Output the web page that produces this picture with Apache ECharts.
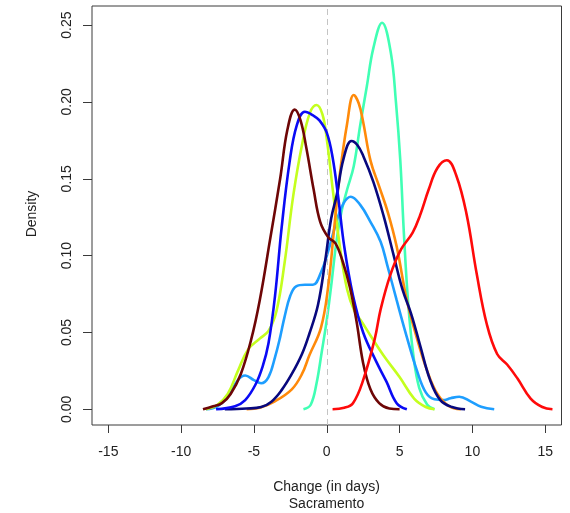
<!DOCTYPE html>
<html>
<head>
<meta charset="utf-8">
<script src="https://cdn.jsdelivr.net/npm/echarts@6/dist/echarts.min.js"></script>
<style>
  html, body { margin: 0; padding: 0; background: #fff; }
  #chart { width: 570px; height: 513px; }
</style>
</head>
<body>
<div id="chart"></div>
<script>
// Kernel density estimates of the change in days, Sacramento.
// Each curve is a list of [change, density] pairs.
const maroonCurve = [
  [-8.5, 0], [-7.8, 0.002], [-7.2, 0.004], [-6.6, 0.010], [-5.9, 0.023], [-5.2, 0.045],
  [-4.6, 0.071], [-3.9, 0.110], [-3.2, 0.150], [-2.7, 0.182], [-2.2, 0.195], [-1.8, 0.188],
  [-1.4, 0.170], [-0.9, 0.143], [-0.45, 0.122], [0.1, 0.112], [0.6, 0.108], [1.1, 0.096],
  [1.6, 0.079], [2.05, 0.057], [2.5, 0.030], [3.0, 0.013], [3.6, 0.004], [4.3, 0.0005], [5.0, 0]
];
const blueCurve = [
  [-7.6, 0], [-6.3, 0.002], [-5.6, 0.006], [-4.9, 0.016], [-4.4, 0.028], [-4.0, 0.043],
  [-3.55, 0.074], [-3.1, 0.118], [-2.55, 0.161], [-2.05, 0.185], [-1.5, 0.1936], [-0.9, 0.191],
  [-0.5, 0.188], [0.0, 0.180], [0.4, 0.164], [0.8, 0.137], [1.2, 0.106], [1.8, 0.074],
  [2.5, 0.050], [3.4, 0.031], [4.1, 0.018], [4.8, 0.004], [5.5, 0]
];
const greenYellowCurve = [
  [-8.3, 0], [-7.5, 0.003], [-6.8, 0.010], [-6.1, 0.025], [-5.4, 0.039], [-4.6, 0.046],
  [-4.0, 0.051], [-3.45, 0.064], [-2.9, 0.095], [-2.3, 0.139], [-1.7, 0.172], [-1.15, 0.193],
  [-0.7, 0.198], [-0.3, 0.192], [0.0, 0.176], [0.45, 0.140], [0.9, 0.106], [1.4, 0.078],
  [1.9, 0.064], [2.4, 0.057], [3.0, 0.048], [3.9, 0.035], [5.0, 0.021], [6.0, 0.007],
  [6.8, 0.0015], [7.4, 0]
];
const navyCurve = [
  [-7.0, 0], [-5.5, 0.0005], [-4.5, 0.0015], [-3.8, 0.005], [-3.1, 0.0125], [-2.4, 0.023],
  [-1.7, 0.036], [-1.2, 0.049], [-0.6, 0.068], [-0.1, 0.097], [0.3, 0.124], [0.7, 0.140],
  [1.15, 0.163], [1.7, 0.1746], [2.1, 0.172], [2.5, 0.165], [3.2, 0.148], [3.9, 0.126],
  [4.6, 0.100], [5.2, 0.078], [5.8, 0.062], [6.4, 0.042], [7.1, 0.019], [7.8, 0.006],
  [8.6, 0.0015], [9.5, 0]
];
const orangeCurve = [
  [-5.5, 0], [-4.6, 0.001], [-3.6, 0.005], [-2.4, 0.013], [-1.7, 0.023], [-1.2, 0.035],
  [-0.4, 0.053], [0.1, 0.080], [0.5, 0.117], [0.9, 0.153], [1.4, 0.186], [1.85, 0.2045],
  [2.2, 0.199], [2.5, 0.187], [3.0, 0.162], [3.6, 0.145], [4.2, 0.128], [4.8, 0.106],
  [5.5, 0.071], [6.2, 0.046], [6.9, 0.025], [7.6, 0.010], [8.4, 0.002], [9.2, 0]
];
const skyBlueCurve = [
  [-8.3, 0], [-7.5, 0.002], [-6.8, 0.008], [-6.1, 0.019], [-5.6, 0.022], [-5.0, 0.019],
  [-4.5, 0.017], [-4.0, 0.021], [-3.55, 0.034], [-3.2, 0.047], [-2.9, 0.060], [-2.5, 0.074],
  [-2.1, 0.080], [-1.5, 0.081], [-0.95, 0.081], [-0.4, 0.089], [0.1, 0.103], [0.7, 0.123],
  [1.15, 0.134], [1.65, 0.1383], [2.3, 0.133], [3.0, 0.122], [3.7, 0.109], [4.15, 0.094],
  [4.8, 0.071], [5.5, 0.047], [6.2, 0.025], [6.8, 0.011], [7.4, 0.0065], [8.0, 0.006],
  [8.5, 0.0072], [9.1, 0.0082], [9.9, 0.005], [10.6, 0.0017], [11.5, 0]
];
const aquaCurve = [
  [-1.6, 0], [-1.1, 0.003], [-0.7, 0.017], [-0.35, 0.037], [0.0, 0.058], [0.3, 0.080],
  [0.65, 0.108], [1.0, 0.128], [1.4, 0.143], [1.85, 0.158], [2.3, 0.185], [2.75, 0.210],
  [3.2, 0.235], [3.8, 0.2515], [4.4, 0.232], [4.75, 0.200], [5.05, 0.162], [5.3, 0.114],
  [5.6, 0.068], [5.95, 0.035], [6.35, 0.014], [6.9, 0.003], [7.4, 0]
];
const redCurve = [
  [0.4, 0], [1.2, 0.001], [1.8, 0.004], [2.5, 0.019], [3.3, 0.046], [3.7, 0.065],
  [4.35, 0.087], [5.1, 0.104], [5.9, 0.115], [6.4, 0.126], [7.0, 0.143], [7.6, 0.157],
  [8.25, 0.162], [8.9, 0.152], [9.6, 0.127], [10.3, 0.088], [11.0, 0.055], [11.7, 0.036],
  [12.4, 0.029], [13.1, 0.020], [14.0, 0.007], [14.8, 0.0015], [15.5, 0]
];

// Tick positions on both axes
const xTicks = [-15, -10, -5, 0, 5, 10, 15];
const yTicks = [0, 0.05, 0.10, 0.15, 0.20, 0.25];
const yTickLabels = ['0.00', '0.05', '0.10', '0.15', '0.20', '0.25'];

const curves = [
  { data: aquaCurve, color: '#40FFB4' },
  { data: skyBlueCurve, color: '#1E9EFF' },
  { data: greenYellowCurve, color: '#C4FF1E' },
  { data: orangeCurve, color: '#FF8A0A' },
  { data: navyCurve, color: '#08087E' },
  { data: blueCurve, color: '#0A0AF5' },
  { data: maroonCurve, color: '#6E0606' },
  { data: redCurve, color: '#FF0A0A' }
];

const font = '"Liberation Sans", Arial, sans-serif';
const chart = echarts.init(document.getElementById('chart'), null, { renderer: 'canvas' });

const series = curves.map((c, i) => ({
  type: 'line',
  data: c.data,
  showSymbol: false,
  smooth: 0.4,
  silent: true,
  z: 3 + i,
  lineStyle: { color: c.color, width: 2.6 },
  animation: false
}));

// Vertical dashed reference line at zero change
series.push({
  type: 'line',
  data: [],
  silent: true,
  z: 2,
  markLine: {
    silent: true,
    symbol: ['none', 'none'],
    label: { show: false },
    lineStyle: { color: '#c4c4c4', type: [6, 4], width: 1 },
    data: [{ xAxis: 0 }],
    animation: false
  }
});

chart.setOption({
  animation: false,
  backgroundColor: '#ffffff',
  grid: {
    left: 92, right: 8.5, top: 6, bottom: 88,
    show: true, borderColor: '#3a3a3a', borderWidth: 1, backgroundColor: 'transparent'
  },
  xAxis: {
    type: 'value',
    min: -16.12, max: 16.12,
    axisLine: { show: false, onZero: false },
    splitLine: { show: false },
    axisTick: {
      show: true, inside: false, length: 8, customValues: xTicks,
      lineStyle: { color: '#3a3a3a', width: 1 }
    },
    axisLabel: {
      show: true, customValues: xTicks, margin: 20,
      fontFamily: font, fontSize: 14, color: '#222'
    }
  },
  yAxis: {
    type: 'value',
    min: -0.0102, max: 0.2624,
    axisLine: { show: false, onZero: false },
    splitLine: { show: false },
    axisTick: {
      show: true, inside: false, length: 9, customValues: yTicks,
      lineStyle: { color: '#3a3a3a', width: 1 }
    },
    axisLabel: {
      show: true, customValues: yTicks, rotate: 90, margin: 18,
      fontFamily: font, fontSize: 14, color: '#222',
      formatter: (v) => {
        const k = yTicks.findIndex(t => Math.abs(t - v) < 1e-9);
        return k >= 0 ? yTickLabels[k] : '';
      }
    }
  },
  graphic: [
    {
      type: 'text', x: 326.5, y: 487,
      style: {
        text: 'Change (in days)', font: '14px ' + font, fill: '#222',
        textAlign: 'center', textVerticalAlign: 'middle'
      }
    },
    {
      type: 'text', x: 326.5, y: 504,
      style: {
        text: 'Sacramento', font: '14px ' + font, fill: '#222',
        textAlign: 'center', textVerticalAlign: 'middle'
      }
    },
    {
      type: 'text', x: 32, y: 214, rotation: Math.PI / 2,
      style: {
        text: 'Density', font: '14px ' + font, fill: '#222',
        textAlign: 'center', textVerticalAlign: 'middle'
      }
    }
  ],
  series: series
});
</script>
</body>
</html>
